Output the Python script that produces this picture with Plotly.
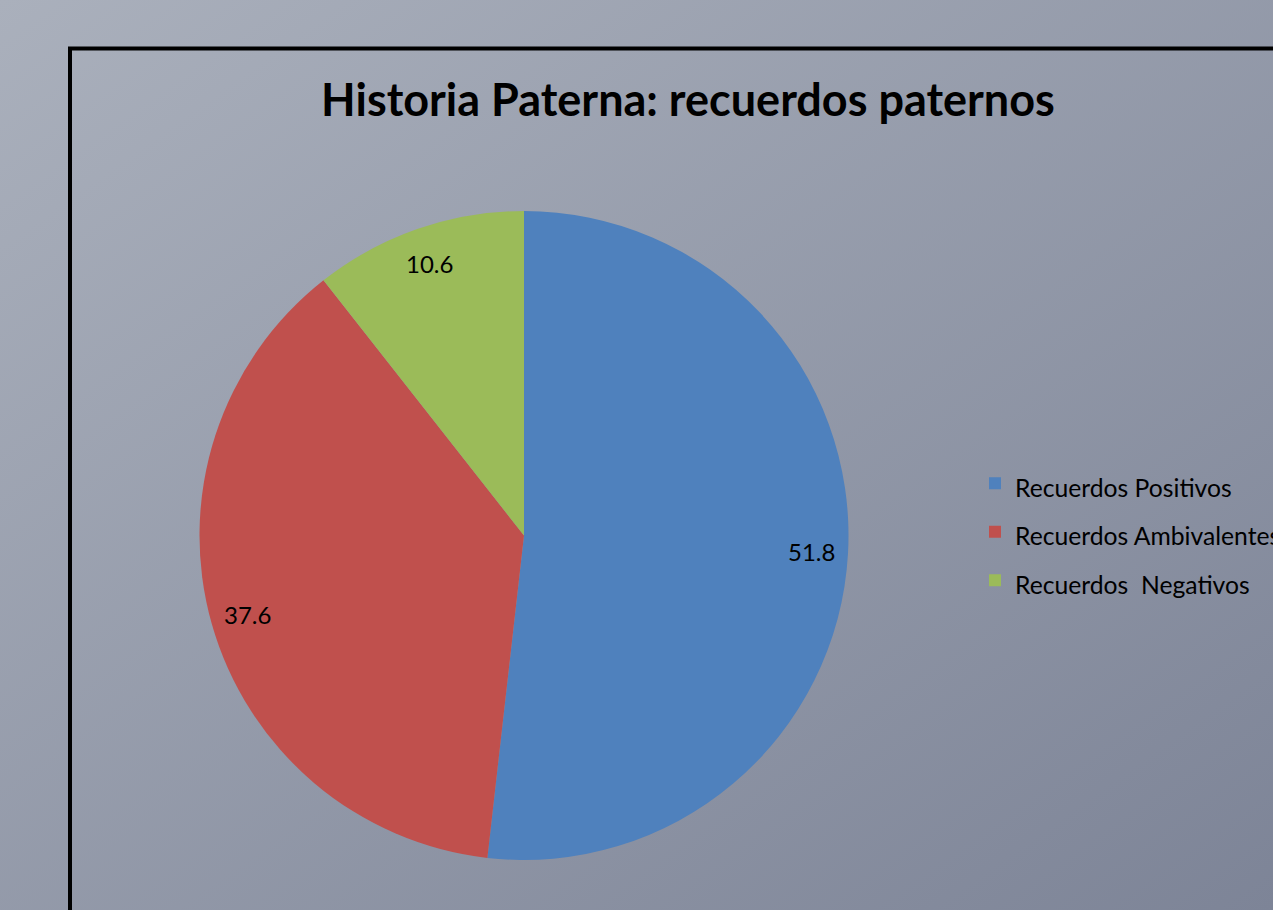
import base64
import math
import plotly.graph_objects as go

labels = ["Recuerdos Positivos", "Recuerdos Ambivalentes", "Recuerdos  Negativos"]
values = [51.8, 37.6, 10.6]
colors = ["#4f81bd", "#c0504d", "#9bbb59"]
title = "Historia Paterna: recuerdos paternos"

W, H = 1273, 910

# pie placement in pixels (square domain)
pie_left, pie_right, pie_top, pie_bottom = 199, 849, 211, 860

# diagonal grey-blue gradient behind everything
svg = (
    f'<svg xmlns="http://www.w3.org/2000/svg" width="{W}" height="{H}">'
    '<defs><linearGradient id="g" x1="0" y1="0" x2="1" y2="1">'
    '<stop offset="0" stop-color="#aab0bc"/><stop offset="1" stop-color="#7d8497"/>'
    '</linearGradient></defs>'
    f'<rect width="{W}" height="{H}" fill="url(#g)"/></svg>'
)
bg_src = "data:image/svg+xml;base64," + base64.b64encode(svg.encode()).decode()

legend_labels = [f'<span style="font-size:24.7px">{l}</span>' for l in labels]

fig = go.Figure(go.Pie(
    labels=legend_labels,
    values=values,
    sort=False,
    direction="clockwise",
    rotation=0,
    marker=dict(colors=colors, line=dict(width=0)),
    textinfo="none",
    domain=dict(x=[pie_left / W, pie_right / W], y=[1 - pie_bottom / H, 1 - pie_top / H]),
    hoverinfo="label+value",
))

# value labels near the outer edge of each slice (like Excel "best fit")
cx = (pie_left + pie_right) / 2
cy = (pie_top + pie_bottom) / 2
radius = (pie_right - pie_left) / 2
total = sum(values)
annotations = []
start = 0
for v in values:
    mid = (start + v / 2) / total * 2 * math.pi
    start += v
    r = 0.885 * radius
    px = cx + r * math.sin(mid)
    py = cy - r * math.cos(mid)
    annotations.append(dict(x=px / W, y=1 - py / H, xref="paper", yref="paper",
                            text=f"{v}", showarrow=False, xanchor="center", yanchor="middle",
                            font=dict(family="Lato", size=24, color="black")))

fig.update_layout(
    width=W, height=H,
    margin=dict(l=0, r=0, t=0, b=0, autoexpand=False),
    paper_bgcolor="#959aa8",
    plot_bgcolor="rgba(0,0,0,0)",
    font=dict(family="Lato", color="black"),
    title=dict(text=title, x=688 / W, xanchor="center", y=1 - 100 / H, yanchor="middle",
               font=dict(family="Lato", size=45, weight="bold", color="black")),
    legend=dict(x=975 / W, xanchor="left", y=1 - 532 / H, yanchor="middle",
                bgcolor="rgba(0,0,0,0)", font=dict(family="Lato", size=35, color="black")),
    annotations=annotations,
    images=[dict(source=bg_src, xref="paper", yref="paper", x=0, y=1, sizex=1, sizey=1,
                 xanchor="left", yanchor="top", sizing="stretch", layer="below")],
    shapes=[dict(type="rect", xref="paper", yref="paper",
                 x0=70 / W, x1=1.2, y0=-0.2, y1=1 - 48.5 / H,
                 line=dict(color="black", width=4), fillcolor="rgba(0,0,0,0)")],
)

fig.write_html("out.html", config={"displayModeBar": False},
               post_script="document.body.style.margin='0';document.body.style.overflow='hidden';")
